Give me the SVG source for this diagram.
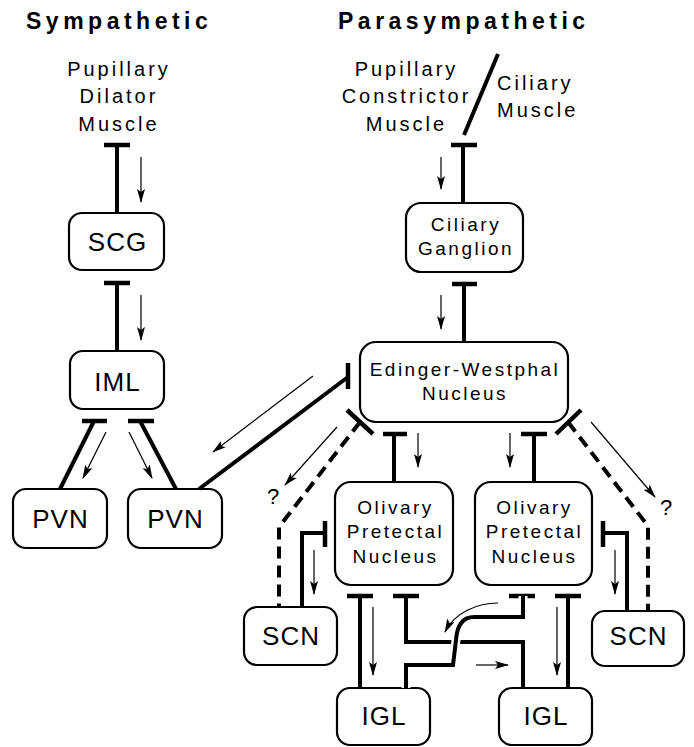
<svg xmlns="http://www.w3.org/2000/svg" width="694" height="747" viewBox="0 0 694 747">
<style>
.box{fill:#fff;stroke:#000;stroke-width:2.2}
.big{font-family:"Liberation Sans",Arial,sans-serif;font-size:26px;letter-spacing:1px;text-anchor:middle;fill:#000}
.mid{font-family:"Liberation Sans",Arial,sans-serif;font-size:19px;letter-spacing:2.5px;text-anchor:middle;fill:#000}
.lbl{font-family:"Liberation Sans",Arial,sans-serif;font-size:20px;letter-spacing:3px;fill:#000}
.title{font-family:"Liberation Sans",Arial,sans-serif;font-size:23px;font-weight:bold;letter-spacing:4.5px;fill:#000}
.q{font-family:"Liberation Sans",Arial,sans-serif;font-size:22px;text-anchor:middle;fill:#000}
.thick{fill:none;stroke:#000;stroke-width:4}
.dash{fill:none;stroke:#000;stroke-width:4;stroke-dasharray:12 7}
.bar{fill:none;stroke:#000;stroke-width:4.5}
.arr{fill:none;stroke:#000;stroke-width:1.2;marker-end:url(#ah)}
</style>
<defs>
<marker id="ah" markerUnits="userSpaceOnUse" markerWidth="14" markerHeight="10" viewBox="0 0 14 10" refX="13" refY="5" orient="auto">
<path d="M0,1 L14,5 L0,9 L3,5 z" fill="#000"/>
</marker>
</defs>

<g id="titles">
<text class="title" x="26" y="29">Sympathetic</text>
<text class="title" x="338" y="29">Parasympathetic</text>
</g>

<g id="dilator">
<text class="lbl" x="119" y="76" text-anchor="middle">Pupillary</text>
<text class="lbl" x="119" y="103" text-anchor="middle">Dilator</text>
<text class="lbl" x="119" y="131" text-anchor="middle">Muscle</text>
</g>

<g id="constrictor">
<text class="lbl" x="406.5" y="76" text-anchor="middle">Pupillary</text>
<text class="lbl" x="406.5" y="103" text-anchor="middle">Constrictor</text>
<text class="lbl" x="406.5" y="131" text-anchor="middle">Muscle</text>
<line x1="498" y1="54" x2="464" y2="135" stroke="#000" stroke-width="4"/>
</g>

<g id="ciliary-muscle">
<text class="lbl" x="497" y="90">Ciliary</text>
<text class="lbl" x="497" y="117">Muscle</text>
</g>

<g id="scg">
<rect class="box" x="69" y="213" width="95" height="57" rx="13"/>
<text class="big" x="117.5" y="251">SCG</text>
</g>

<g id="iml">
<rect class="box" x="70" y="351" width="94" height="58" rx="13"/>
<text class="big" x="117.5" y="391">IML</text>
</g>

<g id="pvn1">
<rect class="box" x="13" y="489" width="94" height="59" rx="13"/>
<text class="big" x="60.5" y="528">PVN</text>
</g>

<g id="pvn2">
<rect class="box" x="128" y="489" width="94" height="59" rx="13"/>
<text class="big" x="175.5" y="528">PVN</text>
</g>

<g id="ciliary-ganglion">
<rect class="box" x="406" y="203" width="117" height="69" rx="15"/>
<text class="mid" x="466" y="231">Ciliary</text>
<text class="mid" x="466" y="255">Ganglion</text>
</g>

<g id="ew">
<rect class="box" x="360" y="342" width="208" height="80" rx="16"/>
<text class="mid" x="465" y="376">Edinger-Westphal</text>
<text class="mid" x="465" y="400">Nucleus</text>
</g>

<g id="opn1">
<rect class="box" x="335" y="482" width="118" height="103" rx="16"/>
<text class="mid" x="395.5" y="514">Olivary</text>
<text class="mid" x="395.5" y="538">Pretectal</text>
<text class="mid" x="395.5" y="563">Nucleus</text>
</g>

<g id="opn2">
<rect class="box" x="475" y="482" width="117" height="103" rx="16"/>
<text class="mid" x="534.5" y="514">Olivary</text>
<text class="mid" x="534.5" y="538">Pretectal</text>
<text class="mid" x="534.5" y="563">Nucleus</text>
</g>

<g id="scn1">
<rect class="box" x="244" y="607" width="93" height="58" rx="13"/>
<text class="big" x="291" y="645">SCN</text>
</g>

<g id="scn2">
<rect class="box" x="592" y="611" width="92" height="55" rx="13"/>
<text class="big" x="638.5" y="645">SCN</text>
</g>

<g id="igl1">
<rect class="box" x="337" y="688" width="93" height="57" rx="13"/>
<text class="big" x="384" y="725">IGL</text>
</g>

<g id="igl2">
<rect class="box" x="499" y="688" width="93" height="57" rx="13"/>
<text class="big" x="546" y="725">IGL</text>
</g>

<g id="connectors">
<!-- dilator - SCG -->
<line class="bar" x1="104" y1="145" x2="130" y2="145"/>
<line class="thick" x1="117" y1="145" x2="117" y2="213"/>
<line class="arr" x1="141" y1="157" x2="141" y2="202"/>
<!-- SCG - IML -->
<line class="bar" x1="104" y1="283" x2="130" y2="283"/>
<line class="thick" x1="117" y1="283" x2="117" y2="351"/>
<line class="arr" x1="141" y1="295" x2="141" y2="340"/>
<!-- IML - PVN -->
<line class="bar" x1="82" y1="421" x2="107" y2="421"/>
<line class="thick" x1="94" y1="421" x2="60" y2="489"/>
<line class="arr" x1="106" y1="432" x2="83" y2="478"/>
<line class="bar" x1="128" y1="421" x2="154" y2="421"/>
<line class="thick" x1="140" y1="421" x2="176" y2="489"/>
<line class="arr" x1="129" y1="432" x2="152" y2="478"/>
<!-- PVN - EW -->
<line class="bar" x1="348" y1="363" x2="348" y2="389"/>
<line class="thick" x1="348" y1="377" x2="199" y2="489"/>
<line class="arr" x1="313" y1="376" x2="213" y2="452"/>
<!-- muscle - ciliary ganglion -->
<line class="bar" x1="451" y1="145" x2="477" y2="145"/>
<line class="thick" x1="463" y1="145" x2="463" y2="203"/>
<line class="arr" x1="441" y1="157" x2="441" y2="189"/>
<!-- ciliary ganglion - EW -->
<line class="bar" x1="452" y1="284" x2="477" y2="284"/>
<line class="thick" x1="464" y1="284" x2="464" y2="342"/>
<line class="arr" x1="441" y1="295" x2="441" y2="329"/>
<!-- EW - OPN -->
<line class="bar" x1="383" y1="434" x2="407" y2="434"/>
<line class="thick" x1="394" y1="434" x2="394" y2="482"/>
<line class="arr" x1="418" y1="433" x2="418" y2="467"/>
<line class="bar" x1="521" y1="434" x2="547" y2="434"/>
<line class="thick" x1="534" y1="434" x2="534" y2="482"/>
<line class="arr" x1="510" y1="433" x2="510" y2="467"/>
<!-- EW - SCN dashed -->
<line class="bar" x1="347" y1="410" x2="373" y2="434"/>
<polyline class="dash" points="360,422 279,527 279,607"/>
<line class="arr" x1="337" y1="427" x2="285" y2="485"/>
<text class="q" x="273" y="504">?</text>
<line class="bar" x1="556" y1="434" x2="581" y2="410"/>
<polyline class="dash" points="568,422 648,526 648,611"/>
<line class="arr" x1="591" y1="422" x2="655" y2="497"/>
<text class="q" x="666" y="515">?</text>
<!-- SCN - OPN -->
<line class="bar" x1="325" y1="521" x2="325" y2="547"/>
<polyline class="thick" points="325,533 302,533 302,607"/>
<line class="arr" x1="314" y1="550" x2="314" y2="594"/>
<line class="bar" x1="603" y1="521" x2="603" y2="547"/>
<polyline class="thick" points="603,533 627,533 627,611"/>
<line class="arr" x1="615" y1="550" x2="615" y2="594"/>
<!-- OPN - IGL -->
<line class="bar" x1="347" y1="596" x2="373" y2="596"/>
<line class="thick" x1="360" y1="596" x2="360" y2="688"/>
<line class="arr" x1="373" y1="607" x2="373" y2="675"/>
<line class="bar" x1="555" y1="596" x2="581" y2="596"/>
<line class="thick" x1="568" y1="596" x2="568" y2="688"/>
<line class="arr" x1="557" y1="607" x2="557" y2="675"/>
<!-- crossed paths -->
<line class="bar" x1="393" y1="596" x2="419" y2="596"/>
<polyline class="thick" points="406,596 406,642 523,642 523,688"/>
<line class="bar" x1="509" y1="596" x2="535" y2="596"/>
<path d="M523,596 L523,617 L474,617 C462,617 457,626 456,640 L453,665 L406,665 L406,688" fill="none" stroke="#fff" stroke-width="9"/>
<path class="thick" d="M523,596 L523,617 L474,617 C462,617 457,626 456,640 L453,665 L406,665 L406,688"/>
<path class="arr" d="M498,603 C478,603 455,612 445,632"/>
<line class="arr" x1="476" y1="665" x2="508" y2="665"/>
</g>
</svg>
